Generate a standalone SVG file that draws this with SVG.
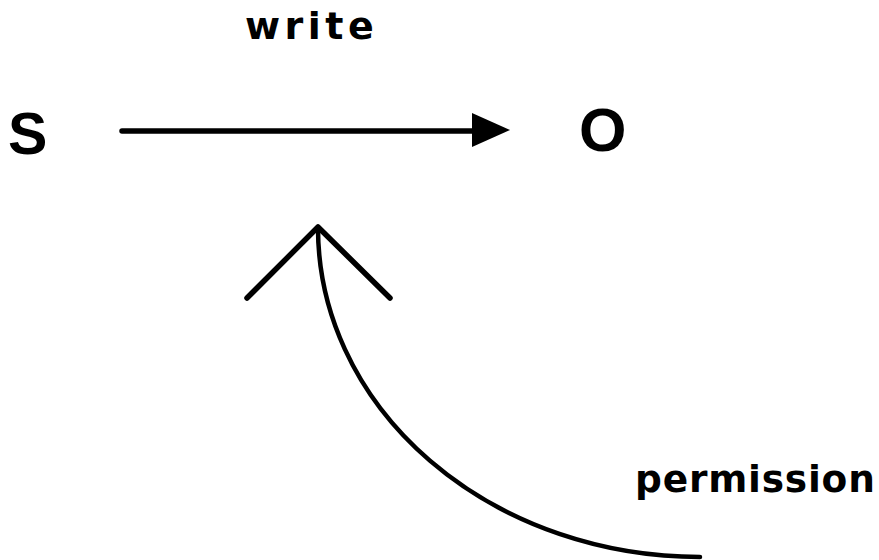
<svg xmlns="http://www.w3.org/2000/svg" width="879" height="560" viewBox="0 0 879 560">
<style>
.lbl{font-family:"Liberation Sans",Arial,sans-serif;font-weight:bold;fill:#000}
.lbl2{font-family:"DejaVu Sans","Liberation Sans",sans-serif;font-weight:bold;fill:#000}
.ln{fill:none;stroke:#000;stroke-linecap:round;stroke-linejoin:round}
</style>
<rect width="879" height="560" fill="#fff"/>
<g id="node-S"><text class="lbl" x="8" y="154" font-size="59">S</text></g>
<g id="node-O"><text class="lbl" x="579" y="151" font-size="61">O</text></g>
<g id="label-write"><text class="lbl2" x="245" y="39" font-size="38" letter-spacing="4.5">write</text></g>
<g id="label-permission"><text class="lbl2" x="635" y="492" font-size="37.5" letter-spacing="0.8">permission</text></g>
<g id="connectors">
<line class="ln" x1="122" y1="131" x2="476" y2="131" stroke-width="5.5"/>
<polygon points="472,113 510,130 472,147" fill="#000"/>
<polyline class="ln" points="247,298 318,227 390,298" stroke-width="5.5"/>
<path class="ln" d="M318,228 A382,329 0 0 0 700,557" stroke-width="4.5"/>
</g>
</svg>
